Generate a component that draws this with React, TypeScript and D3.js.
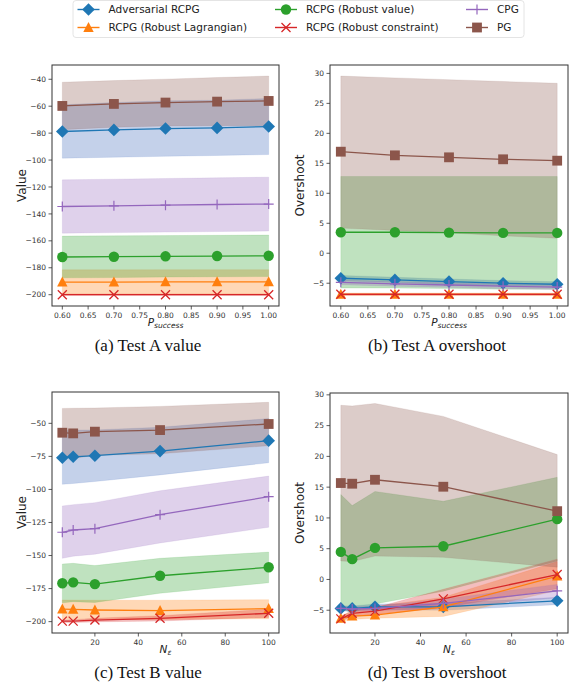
import * as d3 from "d3";

// series order follows the legend (column-wise, 3 columns)
const seriesNames = [
  "Adversarial RCPG",
  "RCPG (Robust Lagrangian)",
  "RCPG (Robust value)",
  "RCPG (Robust constraint)",
  "CPG",
  "PG",
];
const seriesColors = ["#1f77b4", "#ff7f0e", "#2ca02c", "#d62728", "#9467bd", "#8c564b"];
const bandColors = ["#3a66bb", "#ff7f0e", "#2ca02c", "#d62728", "#9467bd", "#8c564b"];
const seriesMarkers = ["diamond", "triangle", "circle", "x", "plus", "square"];

const pSuccess = [0.6, 0.7, 0.8, 0.9, 1.0];
const nEps = [5, 10, 20, 50, 100];

const pTicks = [0.6, 0.65, 0.7, 0.75, 0.8, 0.85, 0.9, 0.95, 1.0];
const nTicks = [20, 40, 60, 80, 100];
const valueTicksA = [-200, -180, -160, -140, -120, -100, -80, -60, -40];
const valueTicksB = [-200, -175, -150, -125, -100, -75, -50];
const overshootTicks = [-5, 0, 5, 10, 15, 20, 25, 30];

// Test A value
const aValueMean = [
  [-78.8, -77.6, -76.6, -76.1, -75.1],
  [-190.6, -190.6, -190.5, -190.5, -190.5],
  [-172.0, -171.8, -171.5, -171.3, -171.1],
  [-200, -200, -200, -200, -200],
  [-134.5, -134.0, -133.5, -133.0, -132.7],
  [-59.8, -58.3, -57.3, -56.6, -56.1],
];
const aValueLow = [
  [-98.6, -97.9, -97.2, -96.6, -95.9],
  [-199.7, -199.7, -199.6, -199.6, -199.6],
  [-187.5, -187.3, -186.9, -186.7, -186.5],
  [-200.6, -200.6, -200.6, -200.6, -200.6],
  [-154.3, -153.9, -153.5, -153.1, -152.7],
  [-77.4, -75.6, -74.7, -74.5, -74.6],
];
const aValueHigh = [
  [-59.0, -57.3, -56.0, -55.6, -54.3],
  [-181.5, -181.5, -181.4, -181.4, -181.4],
  [-156.5, -156.3, -156.1, -155.9, -155.7],
  [-199.4, -199.4, -199.4, -199.4, -199.4],
  [-114.7, -114.2, -113.7, -113.2, -112.7],
  [-42.2, -41.0, -39.9, -38.7, -37.6],
];

// Test A overshoot
const aOverMean = [
  [-4.17, -4.45, -4.72, -5.0, -5.17],
  [-6.85, -6.85, -6.85, -6.85, -6.85],
  [3.5, 3.5, 3.44, 3.39, 3.39],
  [-6.85, -6.85, -6.85, -6.85, -6.85],
  [-4.85, -5.1, -5.3, -5.5, -5.65],
  [16.94, 16.33, 16.0, 15.67, 15.44],
];
const aOverLow = [
  [-4.6, -4.9, -5.2, -5.45, -5.6],
  [-7.05, -7.05, -7.05, -7.05, -7.05],
  [-5.8, -5.8, -5.9, -6.0, -6.0],
  [-7.0, -7.0, -7.0, -7.0, -7.0],
  [-5.25, -5.5, -5.7, -5.9, -6.05],
  [4.2, 3.8, 3.4, 2.9, 2.5],
];
const aOverHigh = [
  [-3.7, -4.0, -4.3, -4.55, -4.75],
  [-6.65, -6.65, -6.65, -6.65, -6.65],
  [12.8, 12.8, 12.8, 12.8, 12.8],
  [-6.7, -6.7, -6.7, -6.7, -6.7],
  [-4.45, -4.7, -4.9, -5.1, -5.25],
  [29.55, 29.25, 28.95, 28.65, 28.35],
];

// Test B value
const bValueMean = [
  [-76.0, -75.3, -74.5, -71.0, -63.1],
  [-190.5, -190.8, -191.2, -191.7, -190.2],
  [-171.0, -170.3, -171.6, -165.3, -158.9],
  [-199.6, -199.6, -198.8, -197.5, -193.7],
  [-132.4, -130.7, -129.7, -119.1, -105.5],
  [-57.1, -57.6, -56.3, -55.1, -50.5],
];
const bValueLow = [
  [-96.1, -95.5, -94.0, -89.0, -79.8],
  [-198.2, -198.3, -198.4, -198.4, -197.8],
  [-185.8, -184.9, -185.5, -178.5, -170.6],
  [-200.6, -200.6, -200.2, -199.5, -196.8],
  [-152.1, -150.5, -149.0, -140.5, -128.6],
  [-75.5, -76.6, -74.2, -73.0, -66.9],
];
const bValueHigh = [
  [-55.9, -55.1, -55.0, -53.0, -46.4],
  [-183.6, -183.7, -183.8, -183.8, -183.4],
  [-156.4, -155.9, -157.6, -152.1, -147.4],
  [-198.6, -198.6, -197.4, -195.5, -190.6],
  [-112.5, -111.5, -110.0, -101.0, -89.9],
  [-38.7, -38.6, -38.4, -37.2, -34.1],
];

// Test B overshoot
const bOverMean = [
  [-4.7, -4.7, -4.45, -4.45, -3.47],
  [-6.33, -5.96, -5.8, -4.45, 0.54],
  [4.48, 3.3, 5.13, 5.4, 9.8],
  [-6.4, -5.5, -5.15, -3.15, 0.8],
  [-4.7, -4.8, -4.7, -3.9, -1.85],
  [15.67, 15.56, 16.2, 15.07, 11.1],
];
const bOverLow = [
  [-5.1, -5.1, -4.9, -5.0, -4.1],
  [-6.8, -6.5, -6.3, -6.0, -1.8],
  [-4.8, -5.4, -4.0, -1.9, 3.0],
  [-6.8, -6.0, -5.7, -4.6, -1.5],
  [-5.1, -5.2, -5.1, -4.6, -3.0],
  [3.0, 2.9, 3.8, 3.6, 2.0],
];
const bOverHigh = [
  [-4.3, -4.3, -4.0, -3.9, -2.9],
  [-5.9, -5.2, -4.4, -2.9, 2.9],
  [13.8, 12.0, 14.3, 12.7, 16.6],
  [-6.0, -5.0, -4.6, -1.6, 3.3],
  [-4.3, -4.4, -4.3, -3.2, -0.8],
  [28.3, 28.2, 28.6, 26.5, 20.3],
];

const FONT = "DejaVu Sans, sans-serif";

const panels = [
  {
    xs: pSuccess, mean: aValueMean, low: aValueLow, high: aValueHigh,
    box: { l: 52, r: 279, t: 65, b: 306 },
    xDomain: [0.58, 1.02], yDomain: [-208.4, -29.4],
    xTicks: pTicks, xFmt: d3.format(".2f"), yTicks: valueTicksA,
    yLabel: "Value", xMain: "P", xSub: "success", caption: "(a) Test A value", capX: 148,
  },
  {
    xs: pSuccess, mean: aOverMean, low: aOverLow, high: aOverHigh,
    box: { l: 330, r: 568, t: 65, b: 306 },
    xDomain: [0.58, 1.02], yDomain: [-8.8, 31.4],
    xTicks: pTicks, xFmt: d3.format(".2f"), yTicks: overshootTicks,
    yLabel: "Overshoot", xMain: "P", xSub: "success", caption: "(b) Test A overshoot", capX: 437,
  },
  {
    xs: nEps, mean: bValueMean, low: bValueLow, high: bValueHigh,
    box: { l: 52, r: 279, t: 392, b: 633 },
    xDomain: [0.25, 104.75], yDomain: [-208.6, -26.3],
    xTicks: nTicks, xFmt: d3.format("d"), yTicks: valueTicksB,
    yLabel: "Value", xMain: "N", xSub: "ε", caption: "(c) Test B value", capX: 148,
  },
  {
    xs: nEps, mean: bOverMean, low: bOverLow, high: bOverHigh,
    box: { l: 330, r: 568, t: 393, b: 633 },
    xDomain: [0.25, 104.75], yDomain: [-8.7, 30.3],
    xTicks: nTicks, xFmt: d3.format("d"), yTicks: overshootTicks,
    yLabel: "Overshoot", xMain: "N", xSub: "ε", caption: "(d) Test B overshoot", capX: 437,
  },
];

function Marker({ kind, color }) {
  if (kind === "diamond") return <path d="M0,-6.3L6.3,0L0,6.3L-6.3,0Z" fill={color} />;
  if (kind === "triangle") return <path d="M0,-5.6L5.2,4.4L-5.2,4.4Z" fill={color} />;
  if (kind === "circle") return <circle r={5.2} fill={color} />;
  if (kind === "square") return <rect x={-4.9} y={-4.9} width={9.8} height={9.8} fill={color} />;
  if (kind === "x")
    return <path d="M-4.5,-4.5L4.5,4.5M-4.5,4.5L4.5,-4.5" stroke={color} strokeWidth={1.3} fill="none" />;
  return <path d="M-5,0L5,0M0,-5L0,5" stroke={color} strokeWidth={1.2} fill="none" />;
}

function Panel({ p }) {
  const { box } = p;
  const x = d3.scaleLinear().domain(p.xDomain).range([box.l, box.r]);
  const y = d3.scaleLinear().domain(p.yDomain).range([box.b, box.t]);
  const yFmt = d3.format("d");
  const line = d3.line<number>().x((d, i) => x(p.xs[i])).y((d) => y(d));
  const area = (lo, hi) =>
    d3.area<number>().x((d, i) => x(p.xs[i])).y0((d, i) => y(lo[i])).y1((d, i) => y(hi[i]))(lo);
  const cx = (box.l + box.r) / 2;
  const cy = (box.t + box.b) / 2;
  return (
    <g>
      <defs>
        <clipPath id={`clip-${box.l}-${box.t}`}>
          <rect x={box.l} y={box.t} width={box.r - box.l} height={box.b - box.t} />
        </clipPath>
      </defs>
      <g clipPath={`url(#clip-${box.l}-${box.t})`}>
        {p.mean.map((_, s) => (
          <path key={s} d={area(p.low[s], p.high[s])} fill={bandColors[s]} fillOpacity={0.3}
            stroke={bandColors[s]} strokeOpacity={0.15} strokeWidth={0.8} />
        ))}
        {p.mean.map((m, s) => (
          <g key={s}>
            <path d={line(m)} fill="none" stroke={seriesColors[s]} strokeWidth={1.3} />
            {m.map((v, i) => (
              <g key={i} transform={`translate(${x(p.xs[i])},${y(v)})`}>
                <Marker kind={seriesMarkers[s]} color={seriesColors[s]} />
              </g>
            ))}
          </g>
        ))}
      </g>
      <rect x={box.l} y={box.t} width={box.r - box.l} height={box.b - box.t} fill="none" stroke="#333" strokeWidth={1} />
      {p.yTicks.map((t) => (
        <g key={t}>
          <line x1={box.l - 3.5} x2={box.l} y1={y(t)} y2={y(t)} stroke="#333" strokeWidth={0.8} />
          <text x={box.l - 6} y={y(t)} dy="0.35em" textAnchor="end" fontSize={7.5} fontFamily={FONT} fill="#333">
            {yFmt(t)}
          </text>
        </g>
      ))}
      {p.xTicks.map((t) => (
        <g key={t}>
          <line x1={x(t)} x2={x(t)} y1={box.b} y2={box.b + 3.5} stroke="#333" strokeWidth={0.8} />
          <text x={x(t)} y={box.b + 12} textAnchor="middle" fontSize={7.5} fontFamily={FONT} fill="#333">
            {p.xFmt(t)}
          </text>
        </g>
      ))}
      <text transform={`translate(${box.l - 26},${cy}) rotate(-90)`} textAnchor="middle" fontSize={12} fontFamily={FONT} fill="#222">
        {p.yLabel}
      </text>
      <text x={cx} y={box.b + 19.5} textAnchor="middle" fontSize={10.5} fontFamily={FONT} fill="#222">
        <tspan fontStyle="italic">{p.xMain}</tspan>
        <tspan fontStyle="italic" fontSize={7.5} dy={2.5}>{p.xSub}</tspan>
      </text>
      <text x={p.capX} y={box.b + 45} textAnchor="middle" fontSize={17} fontFamily="Liberation Serif, serif" fill="#111">
        {p.caption}
      </text>
    </g>
  );
}

function Legend() {
  const colX = [77.5, 275, 466];
  const rowY = [9.5, 27.5];
  return (
    <g>
      <rect x={73} y={0.5} width={451} height={37} rx={3} fill="white" stroke="#ddd" strokeWidth={0.8} />
      {seriesNames.map((name, s) => {
        const cx = colX[Math.floor(s / 2)];
        const cy = rowY[s % 2];
        return (
          <g key={name}>
            <line x1={cx} x2={cx + 22} y1={cy} y2={cy} stroke={seriesColors[s]} strokeWidth={1.4} />
            <g transform={`translate(${cx + 11},${cy})`}>
              <Marker kind={seriesMarkers[s]} color={seriesColors[s]} />
            </g>
            <text x={cx + 31} y={cy} dy="0.35em" fontSize={10.5} fontFamily={FONT} fill="#222">
              {name}
            </text>
          </g>
        );
      })}
    </g>
  );
}

export default function App() {
  return (
    <svg width={573} height={693} style={{ position: "absolute", left: 0, top: 0, background: "white" }}>
      <Legend />
      {panels.map((p, i) => (
        <Panel key={i} p={p} />
      ))}
    </svg>
  );
}
